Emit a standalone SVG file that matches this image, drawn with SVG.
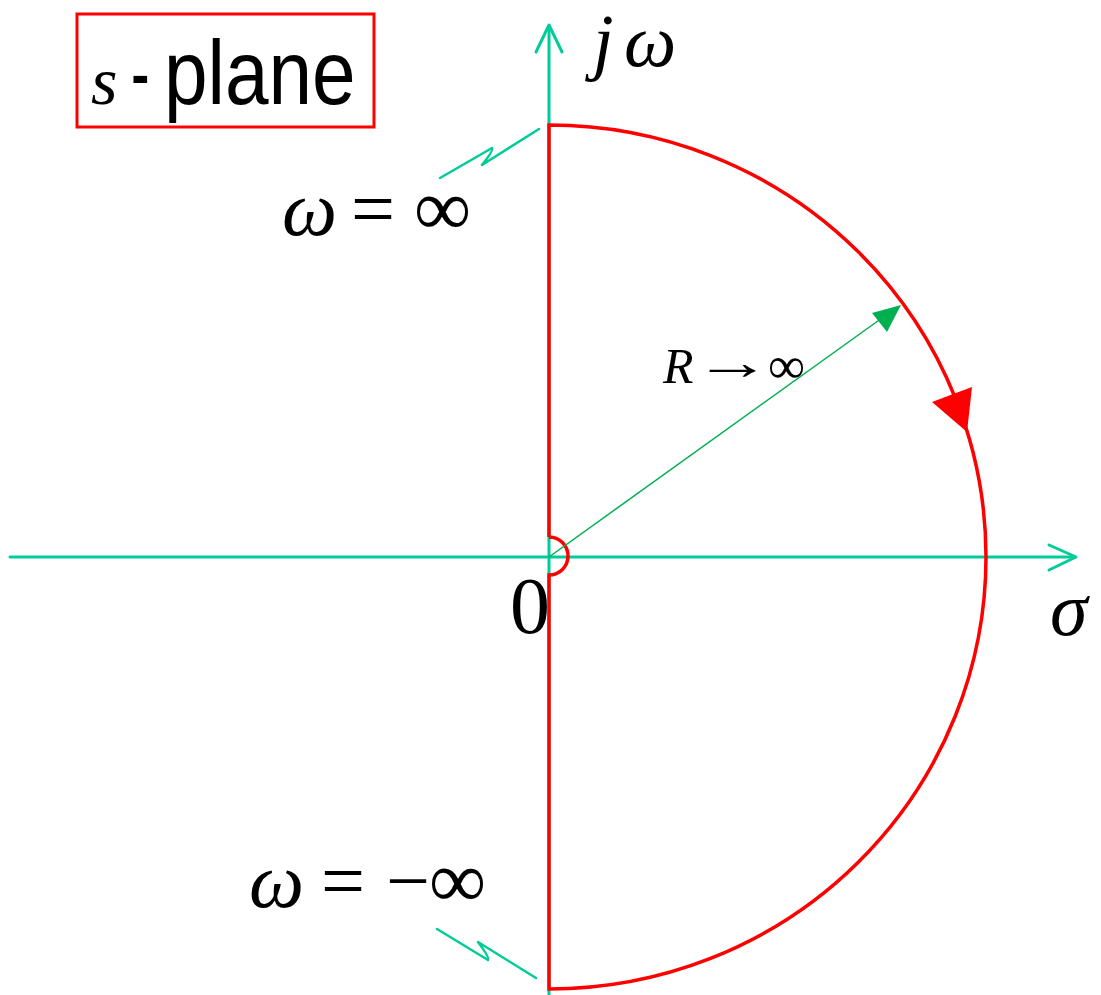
<svg xmlns="http://www.w3.org/2000/svg" width="1101" height="995" viewBox="0 0 1101 995">
<style>
.axis{stroke:#00cc99;stroke-width:3;fill:none;stroke-linecap:round;stroke-linejoin:round}
.zig{stroke:#00cc99;stroke-width:2.5;fill:none;stroke-linecap:round;stroke-linejoin:round}
.red{stroke:#ff0000;stroke-width:3.5;fill:none}
.serif{font-family:"Liberation Serif","Times New Roman",serif;fill:#000}
.it{font-style:italic}
.sans{font-family:"Liberation Sans",Arial,sans-serif;fill:#000}
</style>
<rect width="1101" height="995" fill="#fff"/>
<g id="axes">
  <line class="axis" x1="10" y1="557" x2="1075" y2="557"/>
  <polyline class="axis" points="1049,545 1076,557 1049,570"/>
  <line class="axis" x1="549" y1="995" x2="549" y2="26"/>
  <polyline class="axis" points="536,52 549,25 562,52"/>
</g>
<g id="contour">
  <path class="red" d="M549,537 V125 A437,432 0 0 1 549,989 V575 A18.5,18.5 0 0 0 549,537"/>
  <polygon points="932,402 972,387 967,432" fill="#ff0000"/>
</g>
<g id="connectors">
  <line x1="549" y1="557" x2="882" y2="318" stroke="#00b050" stroke-width="1.5"/>
  <polygon points="901,305 872,313 887,332" fill="#00b050"/>
  <path class="zig" d="M440,178 L492,148 Q494,150 482,165 L539,129"/>
  <path class="zig" d="M437,929 L488,960 Q490,958 478,942 L536,978"/>
</g>
<g id="splane-label">
  <rect x="77" y="14" width="297" height="113" fill="none" stroke="#ff0000" stroke-width="3"/>
  <text class="serif it" x="91" y="104" font-size="68">s</text>
  <text class="sans" transform="translate(131,104) scale(0.62,1)" font-size="90">-</text>
  <text class="sans" transform="translate(164,104) scale(0.87,1)" font-size="90">plane</text>
</g>
<g id="labels">
  <text class="serif it" x="593" y="66" font-size="74">j</text>
  <text class="serif it" x="624" y="66" font-size="74">ω</text>
  <text class="serif it" x="1050" y="635" font-size="76">σ</text>
  <text class="serif" x="510" y="633" font-size="80">0</text>
  <text class="serif it" x="282" y="235" font-size="78">ω</text>
  <text class="serif" x="351" y="235" font-size="78">=</text>
  <text class="serif" x="414" y="235" font-size="80">∞</text>
  <text class="serif it" x="249" y="907" font-size="78">ω</text>
  <text class="serif" x="321" y="907" font-size="78">=</text>
  <text class="serif" x="386" y="907" font-size="78">−</text>
  <text class="serif" x="429" y="907" font-size="80">∞</text>
  <text class="serif it" x="663" y="383" font-size="50">R</text>
  <text class="serif" transform="translate(694,379) scale(1.55,1)" font-size="50">→</text>
  <text class="serif" x="768" y="383" font-size="52">∞</text>
</g>
</svg>
